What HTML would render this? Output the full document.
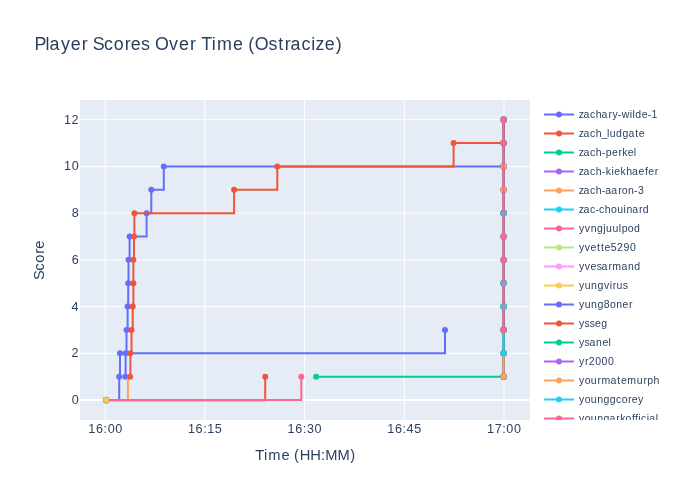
<!DOCTYPE html><html><head><meta charset="utf-8"><style>html,body{margin:0;padding:0;background:#fff;width:700px;height:500px;overflow:hidden}svg{display:block;will-change:transform}</style></head><body>
<svg width="700" height="500" viewBox="0 0 700 500">
<rect x="0" y="0" width="700" height="500" fill="#fff"/>
<rect x="80" y="100" width="450" height="320" fill="#E5ECF6"/>
<path d="M105.30,100V420 M204.97,100V420 M304.65,100V420 M404.32,100V420 M504.00,100V420 M80,353.28H530 M80,306.57H530 M80,259.85H530 M80,213.13H530 M80,166.42H530 M80,119.70H530" stroke="#fff" stroke-width="1" fill="none"/>
<path d="M80,400.00H530" stroke="#fff" stroke-width="2" fill="none"/>
<g clip-path="none">
<path d="M105.30,400.00H119.20V376.64H120.00V353.28H445.00V329.93" stroke="#636efa" stroke-width="2" fill="none" stroke-linejoin="miter"/>
<circle cx="119.20" cy="376.64" r="3" fill="#636efa"/>
<circle cx="120.00" cy="353.28" r="3" fill="#636efa"/>
<circle cx="445.00" cy="329.93" r="3" fill="#636efa"/>
<path d="M125.30,376.64H125.60V353.28H126.50V329.93H127.60V306.57H128.20V283.21H128.50V259.85H129.60V236.49H146.60V213.13H151.30V189.77H163.80V166.42H504.00" stroke="#636efa" stroke-width="2" fill="none" stroke-linejoin="miter"/>
<circle cx="125.30" cy="376.64" r="3" fill="#636efa"/>
<circle cx="125.60" cy="353.28" r="3" fill="#636efa"/>
<circle cx="126.50" cy="329.93" r="3" fill="#636efa"/>
<circle cx="127.60" cy="306.57" r="3" fill="#636efa"/>
<circle cx="128.20" cy="283.21" r="3" fill="#636efa"/>
<circle cx="128.50" cy="259.85" r="3" fill="#636efa"/>
<circle cx="129.60" cy="236.49" r="3" fill="#636efa"/>
<circle cx="146.60" cy="213.13" r="3" fill="#636efa"/>
<circle cx="151.30" cy="189.77" r="3" fill="#636efa"/>
<circle cx="163.80" cy="166.42" r="3" fill="#636efa"/>
<path d="M127.9,400.00V376.64" stroke="#FFA15A" stroke-width="2" fill="none" stroke-linejoin="miter"/>
<path d="M130.10,376.64H130.40V353.28H131.50V329.93H132.70V306.57H133.40V283.21H133.40V259.85H134.00V236.49H134.40V213.13H234.10V189.77H277.30V166.42H453.60V143.06H504.00V119.70" stroke="#EF553B" stroke-width="2" fill="none" stroke-linejoin="miter"/>
<circle cx="130.10" cy="376.64" r="3" fill="#EF553B"/>
<circle cx="130.40" cy="353.28" r="3" fill="#EF553B"/>
<circle cx="131.50" cy="329.93" r="3" fill="#EF553B"/>
<circle cx="132.70" cy="306.57" r="3" fill="#EF553B"/>
<circle cx="133.40" cy="283.21" r="3" fill="#EF553B"/>
<circle cx="133.40" cy="259.85" r="3" fill="#EF553B"/>
<circle cx="134.00" cy="236.49" r="3" fill="#EF553B"/>
<circle cx="134.40" cy="213.13" r="3" fill="#EF553B"/>
<circle cx="234.10" cy="189.77" r="3" fill="#EF553B"/>
<circle cx="277.30" cy="166.42" r="3" fill="#EF553B"/>
<circle cx="453.60" cy="143.06" r="3" fill="#EF553B"/>
<circle cx="504.00" cy="119.70" r="3" fill="#EF553B"/>
<path d="M316.1,376.64H504.00" stroke="#00cc96" stroke-width="2" fill="none" stroke-linejoin="miter"/>
<circle cx="316.10" cy="376.64" r="3" fill="#00cc96"/>
<path d="M105.30,400.00H265.2V376.64" stroke="#EF553B" stroke-width="2" fill="none" stroke-linejoin="miter"/>
<path d="M105.30,400.8H265.2" stroke="#FF6692" stroke-opacity="0.55" stroke-width="2" fill="none"/>
<circle cx="265.20" cy="376.64" r="3" fill="#EF553B"/>
<path d="M105.30,400.00H301.3V376.64" stroke="#FF6692" stroke-width="2" fill="none" stroke-linejoin="miter"/>
<circle cx="301.30" cy="376.64" r="3" fill="#FF6692"/>
<path d="M503.6,376.64V119.70" stroke="#6a6f86" stroke-width="2.7" fill="none"/>
<circle cx="503.6" cy="376.64" r="3.35" fill="#6a6f86"/>
<circle cx="503.6" cy="353.28" r="3.35" fill="#6a6f86"/>
<circle cx="503.6" cy="329.93" r="3.35" fill="#6a6f86"/>
<circle cx="503.6" cy="306.57" r="3.35" fill="#6a6f86"/>
<circle cx="503.6" cy="283.21" r="3.35" fill="#6a6f86"/>
<circle cx="503.6" cy="259.85" r="3.35" fill="#6a6f86"/>
<circle cx="503.6" cy="236.49" r="3.35" fill="#6a6f86"/>
<circle cx="503.6" cy="213.13" r="3.35" fill="#6a6f86"/>
<circle cx="503.6" cy="189.77" r="3.35" fill="#6a6f86"/>
<circle cx="503.6" cy="166.42" r="3.35" fill="#6a6f86"/>
<circle cx="503.6" cy="143.06" r="3.35" fill="#6a6f86"/>
<circle cx="503.6" cy="119.70" r="3.35" fill="#6a6f86"/>
<circle cx="503.60" cy="306.57" r="3.2" fill="#00cc96"/>
<circle cx="503.60" cy="306.57" r="3" fill="#19d3f3"/>
<circle cx="503.60" cy="283.21" r="3" fill="#19d3f3"/>
<circle cx="503.60" cy="213.13" r="3" fill="#19d3f3"/>
<circle cx="503.60" cy="189.77" r="3" fill="#FFA15A"/>
<circle cx="503.60" cy="166.42" r="3" fill="#FFA15A"/>
<path d="M503.6,376.64V353.28" stroke="#FFA15A" stroke-width="2" fill="none" stroke-linejoin="miter"/>
<path d="M503.6,353.28V329.93" stroke="#19d3f3" stroke-width="2" fill="none" stroke-linejoin="miter"/>
<path d="M503.6,329.93V119.70" stroke="#FF6692" stroke-width="2" fill="none" stroke-linejoin="miter"/>
<circle cx="503.60" cy="329.93" r="3" fill="#FF6692"/>
<circle cx="503.60" cy="259.85" r="3" fill="#FF6692"/>
<circle cx="503.60" cy="236.49" r="3" fill="#FF6692"/>
<circle cx="503.60" cy="143.06" r="3" fill="#FF6692"/>
<circle cx="503.60" cy="119.70" r="3" fill="#FF6692"/>
<circle cx="503.60" cy="353.28" r="3" fill="#19d3f3"/>
<circle cx="503.60" cy="376.64" r="3" fill="#FFA15A"/>
<circle cx="106.10" cy="400.10" r="3.35" fill="#6a6f86"/>
<circle cx="106.10" cy="400.10" r="3" fill="#FECB52"/>
</g>
<text x="34.47 45.62 49.56 60.95 70.75 81.75 87.89 92.83 104.12 113.69 124.67 130.77 141.00 149.77 154.92 169.11 178.92 189.92 196.06 201.22 211.73 216.95 232.92 243.06 248.34 254.86 268.58 278.16 284.84 290.59 301.45 311.17 315.58 324.72 335.64" y="49.70" font-family='"Liberation Sans", sans-serif' font-size="17.85" fill="#2a3f5f" >Player Scores Over Time (Ostracize)</text>
<text x="71.67" y="403.90" font-family='"Liberation Sans", sans-serif' font-size="12.60" fill="#2a3f5f" >0</text>
<text x="71.52" y="356.90" font-family='"Liberation Sans", sans-serif' font-size="12.60" fill="#2a3f5f" >2</text>
<text x="71.61" y="310.90" font-family='"Liberation Sans", sans-serif' font-size="12.60" fill="#2a3f5f" >4</text>
<text x="71.64" y="263.90" font-family='"Liberation Sans", sans-serif' font-size="12.60" fill="#2a3f5f" >6</text>
<text x="71.64" y="216.90" font-family='"Liberation Sans", sans-serif' font-size="12.60" fill="#2a3f5f" >8</text>
<text x="63.97 71.66" y="169.90" font-family='"Liberation Sans", sans-serif' font-size="12.60" fill="#2a3f5f" >10</text>
<text x="63.97 71.50" y="123.90" font-family='"Liberation Sans", sans-serif' font-size="12.60" fill="#2a3f5f" >12</text>
<text x="88.25 95.91 103.52 107.63 115.25" y="432.70" font-family='"Liberation Sans", sans-serif' font-size="12.60" fill="#2a3f5f" >16:00</text>
<text x="187.93 195.58 203.19 207.24 214.87" y="432.70" font-family='"Liberation Sans", sans-serif' font-size="12.60" fill="#2a3f5f" >16:15</text>
<text x="287.60 295.26 302.87 306.98 314.60" y="432.70" font-family='"Liberation Sans", sans-serif' font-size="12.60" fill="#2a3f5f" >16:30</text>
<text x="387.28 394.93 402.54 406.59 414.22" y="432.70" font-family='"Liberation Sans", sans-serif' font-size="12.60" fill="#2a3f5f" >16:45</text>
<text x="486.95 494.64 502.22 506.33 513.95" y="432.70" font-family='"Liberation Sans", sans-serif' font-size="12.60" fill="#2a3f5f" >17:00</text>
<text x="255.32 263.93 268.23 281.40 289.76 294.12 299.65 310.17 321.04 325.35 337.43 350.23" y="460.20" font-family='"Liberation Sans", sans-serif' font-size="14.70" fill="#2a3f5f" >Time (HH:MM)</text>
<g transform="translate(44.2,260) rotate(-90)">
<text x="-19.98 -10.73 -2.84 6.22 11.23" y="0.00" font-family='"Liberation Sans", sans-serif' font-size="14.70" fill="#2a3f5f" >Score</text>
</g>
<defs><clipPath id="lc"><rect x="530" y="100" width="170" height="320"/></clipPath></defs>
<g clip-path="url(#lc)">
<path d="M544,114.50H574" stroke="#636efa" stroke-width="2"/>
<circle cx="559" cy="114.50" r="3" fill="#636efa"/>
<text x="578.63 583.62 589.98 595.69 601.58 608.43 612.38 617.85 621.68 629.82 632.60 635.32 641.66 647.69 651.43" y="118.00" font-family='"Liberation Sans", sans-serif' font-size="10.50" fill="#2a3f5f" >zachary-wilde-1</text>
<path d="M544,133.50H574" stroke="#EF553B" stroke-width="2"/>
<circle cx="559" cy="133.50" r="3" fill="#EF553B"/>
<text x="578.63 583.62 589.98 595.69 601.43 607.05 609.80 616.12 622.46 628.40 635.21 638.85" y="137.00" font-family='"Liberation Sans", sans-serif' font-size="10.50" fill="#2a3f5f" >zach_ludgate</text>
<path d="M544,152.50H574" stroke="#00cc96" stroke-width="2"/>
<circle cx="559" cy="152.50" r="3" fill="#00cc96"/>
<text x="578.63 583.62 589.98 595.69 601.87 605.73 611.94 618.41 622.37 627.65 633.87" y="156.00" font-family='"Liberation Sans", sans-serif' font-size="10.50" fill="#2a3f5f" >zach-perkel</text>
<path d="M544,171.50H574" stroke="#ab63fa" stroke-width="2"/>
<circle cx="559" cy="171.50" r="3" fill="#ab63fa"/>
<text x="578.63 583.62 589.98 595.69 601.87 605.76 611.46 614.18 620.48 626.15 632.05 638.58 644.98 648.26 654.73" y="175.00" font-family='"Liberation Sans", sans-serif' font-size="10.50" fill="#2a3f5f" >zach-kiekhaefer</text>
<path d="M544,190.50H574" stroke="#FFA15A" stroke-width="2"/>
<circle cx="559" cy="190.50" r="3" fill="#FFA15A"/>
<text x="578.63 583.62 589.98 595.69 601.87 605.19 611.32 618.16 621.73 627.93 634.08 637.91" y="194.00" font-family='"Liberation Sans", sans-serif' font-size="10.50" fill="#2a3f5f" >zach-aaron-3</text>
<path d="M544,209.50H574" stroke="#19d3f3" stroke-width="2"/>
<circle cx="559" cy="209.50" r="3" fill="#19d3f3"/>
<text x="578.63 583.62 589.98 595.54 599.07 604.79 611.07 617.26 623.62 626.40 632.27 639.12 642.74" y="213.00" font-family='"Liberation Sans", sans-serif' font-size="10.50" fill="#2a3f5f" >zac-chouinard</text>
<path d="M544,228.50H574" stroke="#FF6692" stroke-width="2"/>
<circle cx="559" cy="228.50" r="3" fill="#FF6692"/>
<text x="578.94 584.85 590.68 596.96 603.27 606.12 612.44 618.82 621.66 627.85 634.01" y="232.00" font-family='"Liberation Sans", sans-serif' font-size="10.50" fill="#2a3f5f" >yvngjuulpod</text>
<path d="M544,247.50H574" stroke="#B6E880" stroke-width="2"/>
<circle cx="559" cy="247.50" r="3" fill="#B6E880"/>
<text x="578.94 584.85 590.62 597.05 600.98 604.62 610.79 617.10 623.52 629.91" y="251.00" font-family='"Liberation Sans", sans-serif' font-size="10.50" fill="#2a3f5f" >yvette5290</text>
<path d="M544,266.50H574" stroke="#FF97FF" stroke-width="2"/>
<circle cx="559" cy="266.50" r="3" fill="#FF97FF"/>
<text x="578.94 584.85 590.62 596.65 601.57 608.41 612.35 621.38 627.98 634.26" y="270.00" font-family='"Liberation Sans", sans-serif' font-size="10.50" fill="#2a3f5f" >yvesarmand</text>
<path d="M544,285.50H574" stroke="#FECB52" stroke-width="2"/>
<circle cx="559" cy="285.50" r="3" fill="#FECB52"/>
<text x="578.94 584.73 591.10 597.38 603.88 609.71 612.73 616.55 622.74" y="289.00" font-family='"Liberation Sans", sans-serif' font-size="10.50" fill="#2a3f5f" >yungvirus</text>
<path d="M544,304.50H574" stroke="#636efa" stroke-width="2"/>
<circle cx="559" cy="304.50" r="3" fill="#636efa"/>
<text x="578.94 584.73 591.10 597.38 603.82 610.05 616.27 622.54 629.01" y="308.00" font-family='"Liberation Sans", sans-serif' font-size="10.50" fill="#2a3f5f" >yung8oner</text>
<path d="M544,323.50H574" stroke="#EF553B" stroke-width="2"/>
<circle cx="559" cy="323.50" r="3" fill="#EF553B"/>
<text x="578.94 584.57 589.79 595.12 601.27" y="327.00" font-family='"Liberation Sans", sans-serif' font-size="10.50" fill="#2a3f5f" >ysseg</text>
<path d="M544,342.50H574" stroke="#00cc96" stroke-width="2"/>
<circle cx="559" cy="342.50" r="3" fill="#00cc96"/>
<text x="578.94 584.57 589.51 596.10 602.38 608.58" y="346.00" font-family='"Liberation Sans", sans-serif' font-size="10.50" fill="#2a3f5f" >ysanel</text>
<path d="M544,361.50H574" stroke="#ab63fa" stroke-width="2"/>
<circle cx="559" cy="361.50" r="3" fill="#ab63fa"/>
<text x="578.94 585.01 588.77 595.24 601.60 607.96" y="365.00" font-family='"Liberation Sans", sans-serif' font-size="10.50" fill="#2a3f5f" >yr2000</text>
<path d="M544,380.50H574" stroke="#FFA15A" stroke-width="2"/>
<circle cx="559" cy="380.50" r="3" fill="#FFA15A"/>
<text x="578.94 584.66 590.85 597.46 601.40 610.43 617.24 620.88 627.35 636.80 643.43 647.35 653.60" y="384.00" font-family='"Liberation Sans", sans-serif' font-size="10.50" fill="#2a3f5f" >yourmatemurph</text>
<path d="M544,399.50H574" stroke="#19d3f3" stroke-width="2"/>
<circle cx="559" cy="399.50" r="3" fill="#19d3f3"/>
<text x="578.94 584.66 590.85 597.21 603.49 609.83 616.01 621.65 628.12 631.69 638.01" y="403.00" font-family='"Liberation Sans", sans-serif' font-size="10.50" fill="#2a3f5f" >younggcorey</text>
<path d="M544,418.50H574" stroke="#FF6692" stroke-width="2"/>
<circle cx="559" cy="418.50" r="3" fill="#FF6692"/>
<text x="578.94 584.66 590.85 597.21 603.49 609.43 616.29 620.24 625.48 631.88 635.10 638.15 641.12 646.87 649.16 655.77" y="422.00" font-family='"Liberation Sans", sans-serif' font-size="10.50" fill="#2a3f5f" >youngarkofficial</text>
</g>
</svg></body></html>
